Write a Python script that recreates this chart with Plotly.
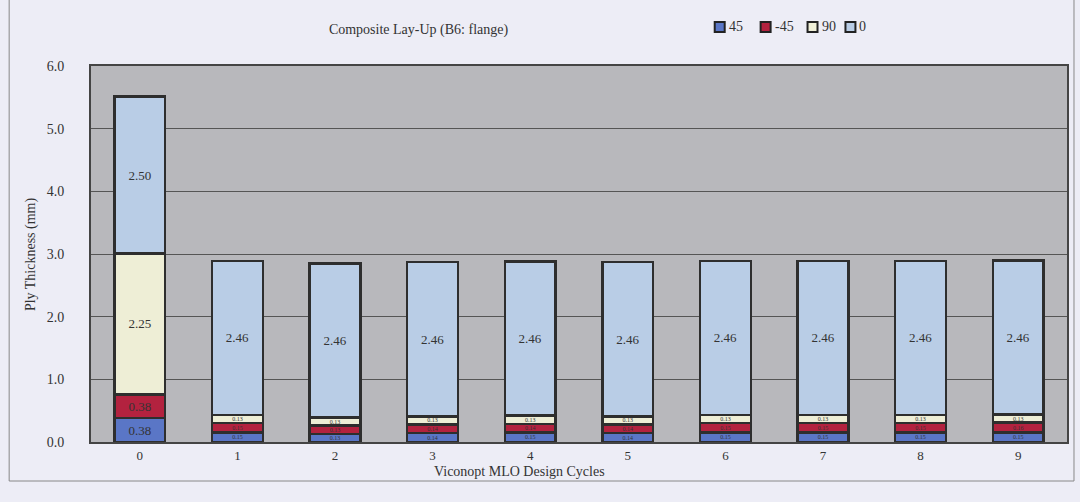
import plotly.graph_objects as go

# Design cycles and ply thickness per orientation (mm)
cycles = ["0", "1", "2", "3", "4", "5", "6", "7", "8", "9"]
ply_45 = [0.38, 0.15, 0.13, 0.14, 0.15, 0.14, 0.15, 0.15, 0.15, 0.15]
ply_m45 = [0.38, 0.15, 0.13, 0.14, 0.14, 0.14, 0.15, 0.15, 0.15, 0.16]
ply_90 = [2.25, 0.13, 0.13, 0.13, 0.13, 0.13, 0.13, 0.13, 0.13, 0.13]
ply_0 = [2.50, 2.46, 2.46, 2.46, 2.46, 2.46, 2.46, 2.46, 2.46, 2.46]

series = [
    ("45", ply_45, "#5a76c6"),
    ("-45", ply_m45, "#b3223f"),
    ("90", ply_90, "#eeeed6"),
    ("0", ply_0, "#b9cde6"),
]

FONT = "Liberation Serif, Times New Roman, serif"

fig = go.Figure()
for name, vals, color in series:
    fig.add_trace(go.Bar(
        x=cycles, y=vals, name=name, showlegend=False,
        marker=dict(color=color, line=dict(color="#2e2e2e", width=2.5)),
        text=[f"{v:.2f}" for v in vals],
        textposition="inside", insidetextanchor="middle",
        textfont=dict(family=FONT, size=[13 if v > 0.3 else 6 for v in vals],
                      color="#333333"),
        cliponaxis=False,
    ))

# plot-area pixel geometry helpers
L, R, T, B = 91, 1069, 66, 442
W, H = R - L, B - T

def px(x):
    return (x - L) / W

def py(y):
    return (B - y) / H

# compact legend row: swatch + label per series
shapes = [dict(type="rect", xref="paper", yref="paper",
               x0=px(9), x1=px(1076), y0=py(481), y1=py(-2),
               line=dict(color="#888888", width=1))]
annotations = []
legend_x = [716, 762, 809, 847]
for (name, _, color), lx in zip(series, legend_x):
    shapes.append(dict(type="rect", xref="paper", yref="paper",
                       x0=px(lx), x1=px(lx + 10), y0=py(32), y1=py(22),
                       fillcolor=color, line=dict(color="#222222", width=2)))
    annotations.append(dict(text=name, xref="paper", yref="paper",
                            x=px(lx + 12), y=py(27), xanchor="left", yanchor="middle",
                            showarrow=False, font=dict(size=14, color="#333333")))

annotations.append(dict(text="Viconopt MLO Design Cycles", xref="paper", yref="paper",
                        x=px(520), y=py(471), xanchor="center", yanchor="middle",
                        showarrow=False, font=dict(size=14, color="#333333")))
annotations.append(dict(text="Ply Thickness (mm)", xref="paper", yref="paper",
                        x=px(31), y=py(254), xanchor="center", yanchor="middle",
                        textangle=-90, showarrow=False,
                        font=dict(size=14, color="#333333")))

fig.update_layout(
    barmode="stack",
    bargap=0.48,
    width=1080, height=502,
    margin=dict(l=L, r=1080 - R, t=T, b=502 - B),
    paper_bgcolor="#ededf6",
    plot_bgcolor="#b8b8bc",
    font=dict(family=FONT, size=13, color="#333333"),
    title=dict(text="Composite Lay-Up (B6: flange)", x=px(470), xanchor="center",
               y=1 - 29 / 502, yanchor="middle", font=dict(size=14, color="#333333")),
    uniformtext=dict(minsize=5, mode="show"),
    xaxis=dict(
        showgrid=False, ticks="", tickfont=dict(size=13),
        showline=True, linecolor="#444444", linewidth=2, mirror=True,
    ),
    yaxis=dict(
        range=[0, 6], dtick=1, tickformat=".1f", tickfont=dict(size=14),
        ticklabelstandoff=22,
        showgrid=True, gridcolor="#555555", gridwidth=1,
        showline=True, linecolor="#444444", linewidth=2, mirror=True,
        zeroline=False, ticks="",
    ),
    shapes=shapes,
    annotations=annotations,
)

fig.write_html("out.html")
